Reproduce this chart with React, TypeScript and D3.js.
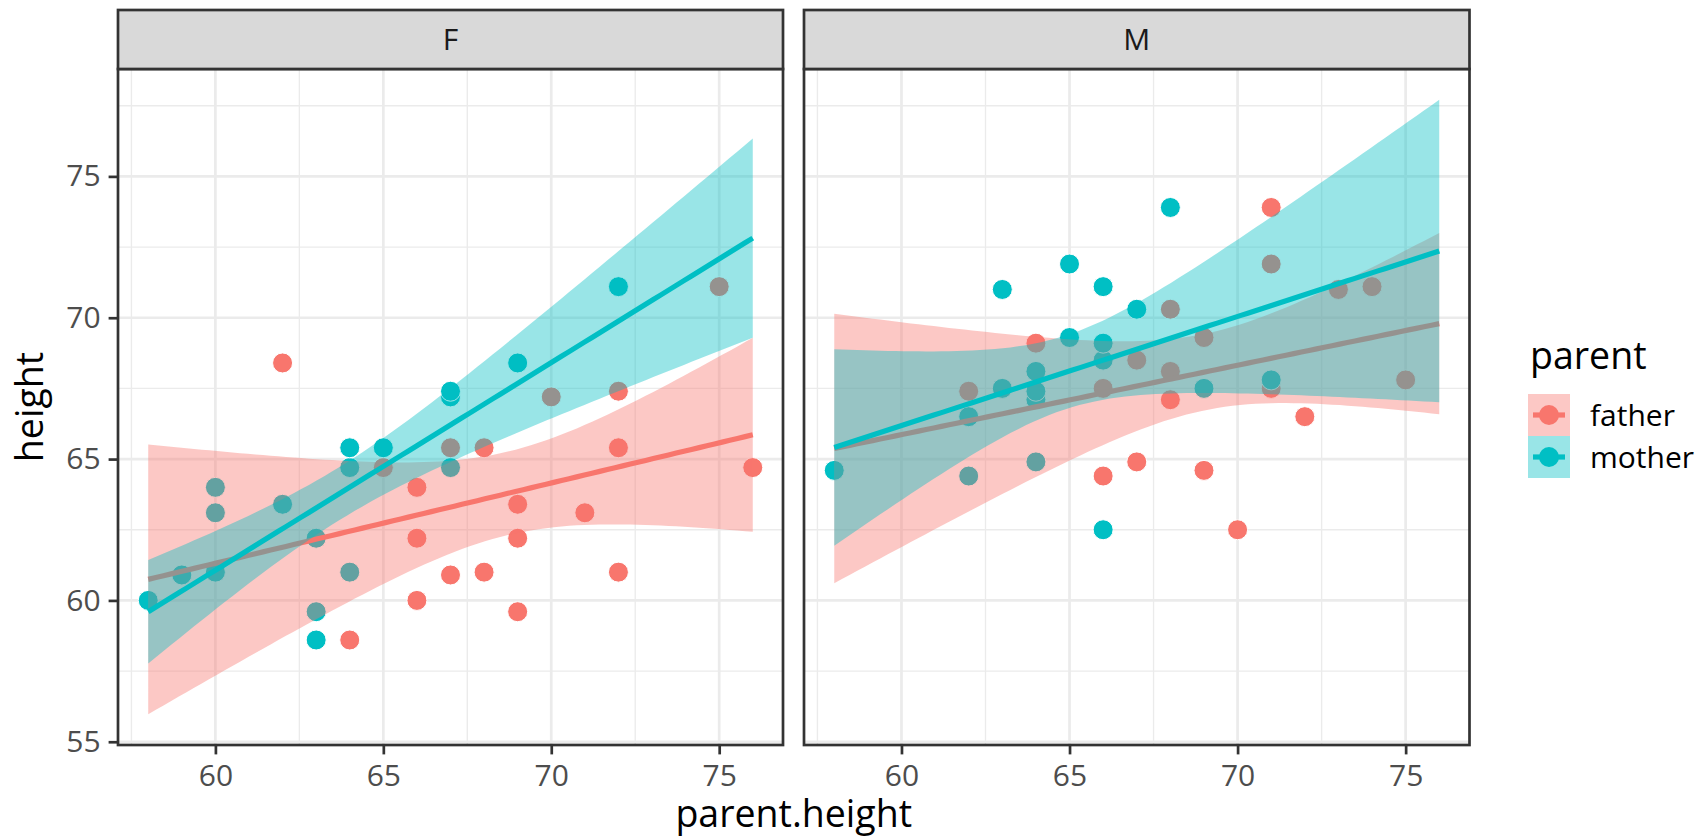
import React, { useEffect, useRef } from 'react';
import * as d3 from 'd3';

// daughters (panel F): child height, father height, mother height
const fHeight = [58.6, 59.6, 60.0, 60.9, 61.0, 61.0, 62.2, 62.2, 63.1, 63.4, 64.0, 64.7, 64.7, 65.4, 65.4, 65.4, 67.2, 67.4, 68.4, 71.1];
const fFather = [64, 69, 66, 67, 68, 72, 66, 69, 71, 69, 66, 65, 76, 67, 68, 72, 70, 72, 62, 75];
const fMother = [63, 63, 58, 59, 60, 64, 63, 63, 60, 62, 60, 64, 67, 64, 65, 64, 67, 67, 69, 72];

// sons (panel M)
const mHeight = [62.5, 64.4, 64.6, 64.9, 66.5, 67.1, 67.4, 67.5, 67.5, 67.8, 68.1, 68.5, 69.1, 69.3, 70.3, 71.0, 71.1, 71.9, 73.9];
const mFather = [70, 66, 69, 67, 72, 68, 62, 66, 71, 75, 68, 67, 64, 69, 68, 73, 74, 71, 71];
const mMother = [66, 62, 58, 64, 62, 64, 64, 63, 69, 71, 64, 66, 66, 65, 67, 63, 66, 65, 68];

const panelNames = ['F', 'M'];
const parents = ['father', 'mother'];
const parentColors = ['#F8766D', '#00BFC4'];
const xTicks = [60, 65, 70, 75];
const xMinor = [57.5, 62.5, 67.5, 72.5];
const yTicks = [55, 60, 65, 70, 75];
const yMinor = [57.5, 62.5, 67.5, 72.5, 77.5];

const W = 1704;
const H = 838;
const FONT = '"Open Sans", "Noto Sans", sans-serif';

// t quantile (0.975) via Cornish-Fisher expansion
const tQuant = (df: number) => {
  const z = 1.959964;
  const z3 = z ** 3, z5 = z ** 5, z7 = z ** 7;
  return z + (z3 + z) / (4 * df) + (5 * z5 + 16 * z3 + 3 * z) / (96 * df * df)
    + (3 * z7 + 19 * z5 + 17 * z3 - 15 * z) / (384 * df ** 3);
};

// linear model with 95% confidence band, like geom_smooth(method = 'lm')
const fitLm = (xs: number[], ys: number[], xseq: number[]) => {
  const n = xs.length;
  const mx = d3.mean(xs)!, my = d3.mean(ys)!;
  let sxx = 0, sxy = 0, syy = 0;
  xs.forEach((x, i) => {
    sxx += (x - mx) ** 2;
    sxy += (x - mx) * (ys[i] - my);
    syy += (ys[i] - my) ** 2;
  });
  const b = sxy / sxx;
  const a = my - b * mx;
  const s = Math.sqrt((syy - b * sxy) / (n - 2));
  const t = tQuant(n - 2);
  return xseq.map(x => {
    const y = a + b * x;
    const se = s * Math.sqrt(1 / n + (x - mx) ** 2 / sxx);
    return { x, y, lo: y - t * se, hi: y + t * se };
  });
};

const App = () => {
  const ref = useRef<SVGSVGElement>(null);

  useEffect(() => {
    if (!ref.current) return;
    const svg = d3.select(ref.current);
    svg.selectAll('*').remove();

    const panels = [
      { name: panelNames[0], height: fHeight, by: [fFather, fMother] },
      { name: panelNames[1], height: mHeight, by: [mFather, mMother] },
    ];

    const allX = [...fFather, ...fMother, ...mFather, ...mMother];
    const [xlo, xhi] = d3.extent(allX) as [number, number];
    const xseq = d3.range(80).map(i => xlo + (i * (xhi - xlo)) / 79);

    const fits = panels.map(p => p.by.map(xs => fitLm(xs, p.height, xseq)));

    const yVals: number[] = [...fHeight, ...mHeight];
    fits.forEach(pf => pf.forEach(f => f.forEach(d => { yVals.push(d.lo, d.hi); })));
    const [ylo, yhi] = d3.extent(yVals) as [number, number];
    const xpad = (xhi - xlo) * 0.05;
    const ypad = (yhi - ylo) * 0.05;

    const panelX = [[118, 783], [804, 1469.5]];
    const top = 69;
    const bottom = 745;
    const stripTop = 10;
    const lw = 2.7;
    const smoothW = 5.2;

    const y = d3.scaleLinear().domain([ylo - ypad, yhi + ypad]).range([bottom, top]);

    panels.forEach((p, pi) => {
      const [x0, x1] = panelX[pi];
      const x = d3.scaleLinear().domain([xlo - xpad, xhi + xpad]).range([x0, x1]);
      const g = svg.append('g');

      g.append('rect').attr('x', x0).attr('y', top).attr('width', x1 - x0).attr('height', bottom - top).attr('fill', 'white');

      // grid
      g.selectAll('.vminor').data(xMinor).enter().append('line')
        .attr('x1', d => x(d)).attr('x2', d => x(d)).attr('y1', top).attr('y2', bottom)
        .attr('stroke', '#EBEBEB').attr('stroke-width', lw / 2);
      g.selectAll('.hminor').data(yMinor).enter().append('line')
        .attr('x1', x0).attr('x2', x1).attr('y1', d => y(d)).attr('y2', d => y(d))
        .attr('stroke', '#EBEBEB').attr('stroke-width', lw / 2);
      g.selectAll('.vmajor').data(xTicks).enter().append('line')
        .attr('x1', d => x(d)).attr('x2', d => x(d)).attr('y1', top).attr('y2', bottom)
        .attr('stroke', '#EBEBEB').attr('stroke-width', lw);
      g.selectAll('.hmajor').data(yTicks).enter().append('line')
        .attr('x1', x0).attr('x2', x1).attr('y1', d => y(d)).attr('y2', d => y(d))
        .attr('stroke', '#EBEBEB').attr('stroke-width', lw);

      // points: father then mother for each child
      const pts: { px: number; py: number; k: number }[] = [];
      p.height.forEach((h, i) => {
        pts.push({ px: p.by[0][i], py: h, k: 0 });
        pts.push({ px: p.by[1][i], py: h, k: 1 });
      });
      g.selectAll('.pt').data(pts).enter().append('circle')
        .attr('cx', d => x(d.px)).attr('cy', d => y(d.py)).attr('r', 10)
        .attr('fill', d => parentColors[d.k]).attr('stroke', 'white').attr('stroke-width', 1);

      // smooths
      const area = d3.area<{ x: number; lo: number; hi: number }>()
        .x(d => x(d.x)).y0(d => y(d.lo)).y1(d => y(d.hi));
      const line = d3.line<{ x: number; y: number }>().x(d => x(d.x)).y(d => y(d.y));
      fits[pi].forEach((f, k) => {
        g.append('path').datum(f).attr('d', area).attr('fill', parentColors[k]).attr('fill-opacity', 0.4);
        g.append('path').datum(f).attr('d', line).attr('fill', 'none')
          .attr('stroke', parentColors[k]).attr('stroke-width', smoothW);
      });

      // border and strip
      g.append('rect').attr('x', x0).attr('y', top).attr('width', x1 - x0).attr('height', bottom - top)
        .attr('fill', 'none').attr('stroke', '#333333').attr('stroke-width', lw);
      g.append('rect').attr('x', x0).attr('y', stripTop).attr('width', x1 - x0).attr('height', top - stripTop)
        .attr('fill', '#D9D9D9').attr('stroke', '#333333').attr('stroke-width', lw);
      g.append('text').attr('x', (x0 + x1) / 2).attr('y', 50).attr('text-anchor', 'middle')
        .attr('font-family', FONT).attr('font-size', 30).attr('fill', '#1A1A1A').text(p.name);

      // axes
      const ax = g.append('g').attr('transform', `translate(0,${bottom})`)
        .call(d3.axisBottom(x).tickValues(xTicks).tickSize(9.4).tickPadding(10.6).tickSizeOuter(0));
      ax.select('.domain').remove();
      ax.selectAll('line').attr('stroke', '#333333').attr('stroke-width', lw);
      ax.selectAll('text').attr('font-family', FONT).attr('font-size', 30).attr('fill', '#4D4D4D');

      if (pi === 0) {
        const ay = g.append('g').attr('transform', `translate(${x0},0)`)
          .call(d3.axisLeft(y).tickValues(yTicks).tickSize(9.4).tickPadding(8).tickSizeOuter(0));
        ay.select('.domain').remove();
        ay.selectAll('line').attr('stroke', '#333333').attr('stroke-width', lw);
        ay.selectAll('text').attr('font-family', FONT).attr('font-size', 30).attr('fill', '#4D4D4D');
      }
    });

    // axis titles
    svg.append('text').attr('x', (panelX[0][0] + panelX[1][1]) / 2).attr('y', 827)
      .attr('text-anchor', 'middle').attr('font-family', FONT).attr('font-size', 37.5).attr('fill', 'black')
      .text('parent.height');
    svg.append('text').attr('transform', `translate(43,${(top + bottom) / 2}) rotate(-90)`)
      .attr('text-anchor', 'middle').attr('font-family', FONT).attr('font-size', 37.5).attr('fill', 'black')
      .text('height');

    // legend
    const lg = svg.append('g');
    lg.append('text').attr('x', 1530).attr('y', 369).attr('font-family', FONT).attr('font-size', 37.5)
      .attr('fill', 'black').text('parent');
    parents.forEach((name, k) => {
      const ky = 394 + k * 42;
      lg.append('rect').attr('x', 1528).attr('y', ky).attr('width', 42).attr('height', 42)
        .attr('fill', parentColors[k]).attr('fill-opacity', 0.4);
      lg.append('line').attr('x1', 1533).attr('x2', 1565).attr('y1', ky + 21).attr('y2', ky + 21)
        .attr('stroke', parentColors[k]).attr('stroke-width', smoothW);
      lg.append('circle').attr('cx', 1549).attr('cy', ky + 21).attr('r', 10).attr('fill', parentColors[k]);
      lg.append('text').attr('x', 1590).attr('y', ky + 31.5).attr('font-family', FONT).attr('font-size', 30)
        .attr('fill', 'black').text(name);
    });
  }, []);

  return (
    <div style={{ position: 'absolute', left: 0, top: 0, background: 'white' }}>
      <svg ref={ref} width={W} height={H} />
    </div>
  );
};

export default App;
